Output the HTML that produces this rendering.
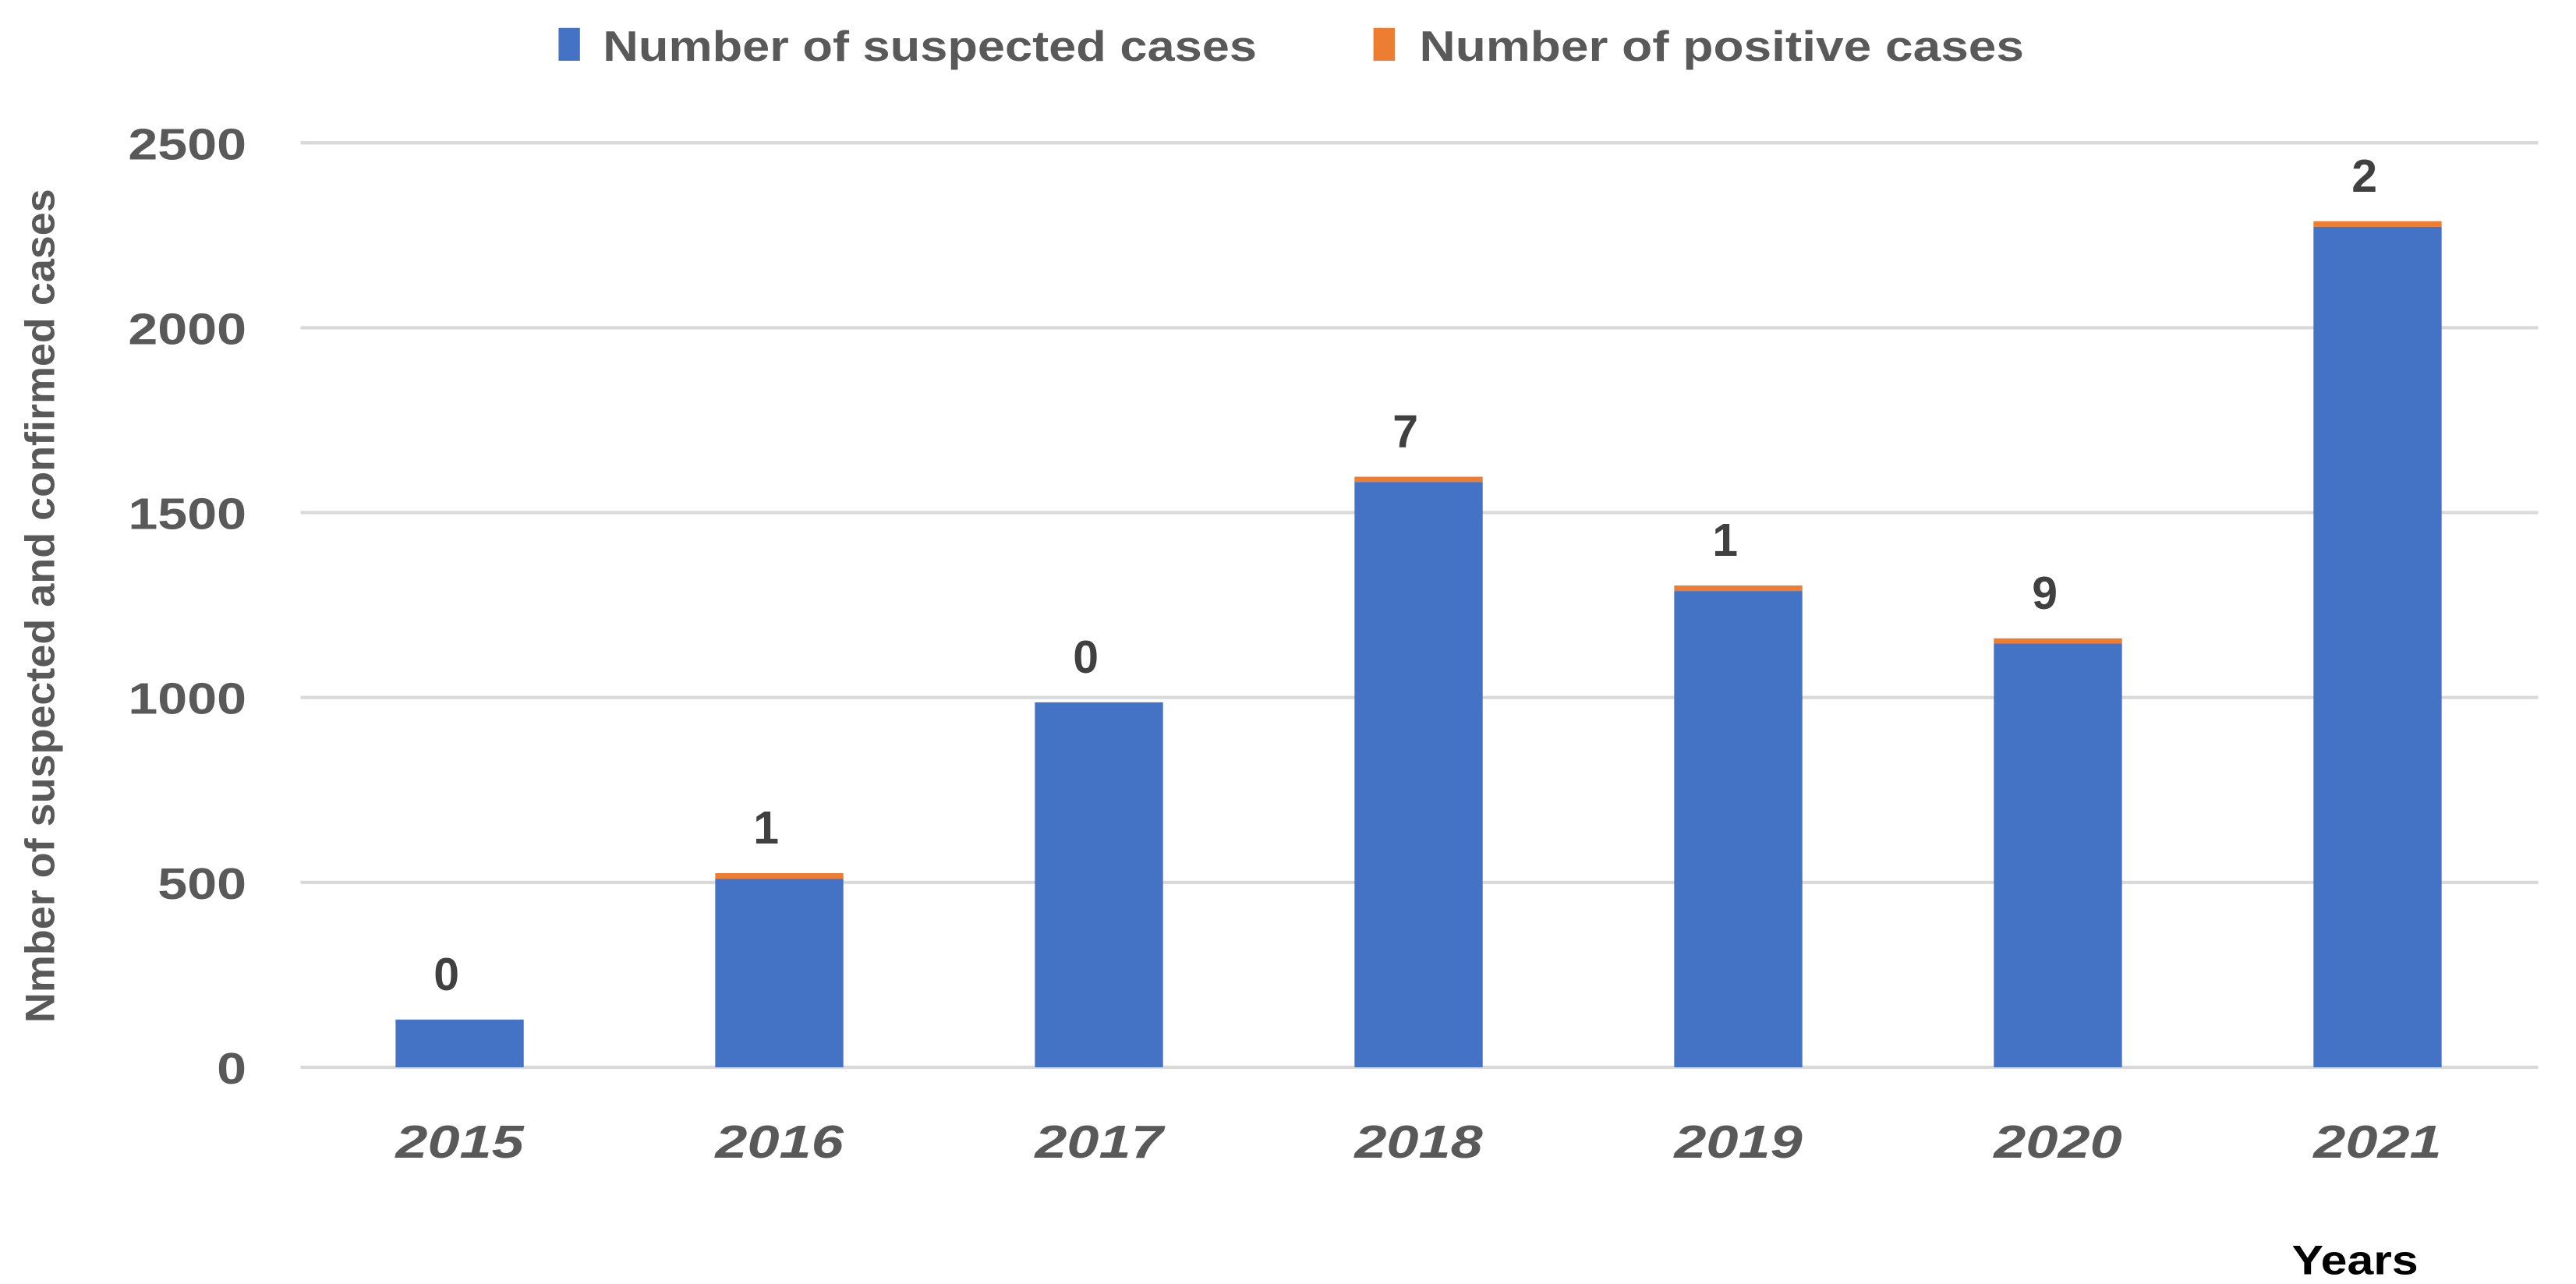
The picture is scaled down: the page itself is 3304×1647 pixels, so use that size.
<!DOCTYPE html>
<html><head><meta charset="utf-8"><style>
html,body{margin:0;padding:0;background:#fff;}
svg{display:block;}
text{font-family:"Liberation Sans",sans-serif;font-weight:bold;}
</style></head><body>
<svg id="chart" width="3304" height="1647" viewBox="0 0 1568 782" preserveAspectRatio="none" xmlns="http://www.w3.org/2000/svg">
<g id="grid"></g>
<g id="yticks"></g>
<g id="bars"></g>
<g id="xticks"></g>
<g id="legend">
  <rect x="340" y="17" width="13" height="20" fill="#4472c4"/>
  <text x="367" y="37" font-size="26" fill="#595959" textLength="398" lengthAdjust="spacingAndGlyphs">Number of suspected cases</text>
  <rect x="836" y="17" width="13" height="20" fill="#ed7d31"/>
  <text x="864" y="37" font-size="26" fill="#595959" textLength="368" lengthAdjust="spacingAndGlyphs">Number of positive cases</text>
</g>
<text transform="translate(33,369) rotate(-90)" text-anchor="middle" font-size="25" fill="#595959" textLength="508" lengthAdjust="spacingAndGlyphs">Nmber of suspected and confirmed cases</text>
<text x="1395" y="776" font-size="25" fill="#000" textLength="77" lengthAdjust="spacingAndGlyphs">Years</text>
</svg>
<script>
const categories = ["2015","2016","2017","2018","2019","2020","2021"];
const suspected = [129, 510, 987, 1583, 1288, 1146, 2273];
const positive = [0, 15, 0, 14, 15, 14, 15];
const positiveLabels = ["0","1","0","7","1","9","2"];
const yTicks = [0, 500, 1000, 1500, 2000, 2500];

const NS = "http://www.w3.org/2000/svg";
const plotL = 183, plotR = 1545, y0 = 650, y2500 = 87;
const yMax = 2500;
function yScale(v){ return y0 - (v / yMax) * (y0 - y2500); }
const band = (plotR - plotL) / categories.length;
function xCenter(i){ return plotL + band * (i + 0.5) - 0.5; }
const barW = 78;
function mk(tag, attrs){ const e = document.createElementNS(NS, tag); for (const k in attrs) e.setAttribute(k, attrs[k]); return e; }

const grid = document.getElementById('grid');
const yt = document.getElementById('yticks');
yTicks.forEach(v => {
  const y = yScale(v);
  const l = mk('line', {x1: plotL, x2: plotR, y1: y, y2: y, stroke: '#d9d9d9', 'stroke-width': 2});
  
  
  grid.appendChild(l);
  const t = mk('text', {x: 150, y: y + 10, 'text-anchor': 'end', 'font-size': 27, fill: '#595959'});
  
  
  t.textContent = String(v);
  t.setAttribute('textLength', String(v).length * 18);
  t.setAttribute('lengthAdjust', 'spacingAndGlyphs');
  yt.appendChild(t);
});

const bars = document.getElementById('bars');
const xt = document.getElementById('xticks');
categories.forEach((c, i) => {
  const cx = xCenter(i);
  const ys = yScale(suspected[i]);
  const b = mk('rect', {x: cx - barW/2, y: ys, width: barW, height: y0 - ys, fill: '#4472c4'});
  
  
  bars.appendChild(b);
  const yp = yScale(suspected[i] + positive[i]);
  if (positive[i] > 0) {
    const o = mk('rect', {x: cx - barW/2, y: yp, width: barW, height: ys - yp, fill: '#ed7d31'});
    
    
    bars.appendChild(o);
  }
  const lbl = mk('text', {x: cx - 8, y: yp - 18, 'text-anchor': 'middle', 'font-size': 28, fill: '#404040'});
  
  
  lbl.textContent = positiveLabels[i];
  bars.appendChild(lbl);
  const xl = mk('text', {x: cx, y: 705, 'text-anchor': 'middle', 'font-size': 28, 'font-style': 'italic', fill: '#595959', textLength: 78, lengthAdjust: 'spacingAndGlyphs'});
  
  
  xl.textContent = c;
  xt.appendChild(xl);
});
</script>
</body></html>
